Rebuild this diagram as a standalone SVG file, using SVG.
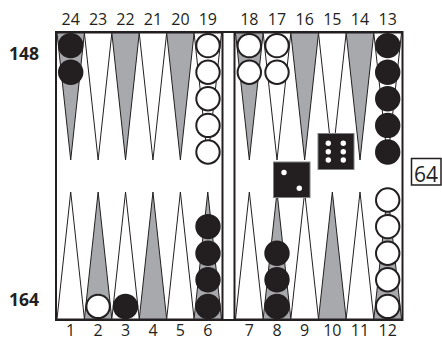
<svg xmlns="http://www.w3.org/2000/svg" width="442" height="340" viewBox="0 0 442 340">
<style>
.g{fill:#a7a9ac;stroke:#231f20;stroke-width:1}
.w{fill:#fff;stroke:#231f20;stroke-width:1}
.bk{fill:#231f20;stroke:#231f20;stroke-width:1.8}
.wh{fill:#fff;stroke:#231f20;stroke-width:2}
.frame{fill:none;stroke:#231f20;stroke-width:2}
.num{font-family:"Open Sans","Noto Sans",sans-serif;font-size:16px;fill:#231f20;text-anchor:middle}
.pip{font-family:"Open Sans","Noto Sans",sans-serif;font-size:17.5px;font-weight:700;fill:#231f20}
.die{fill:#231f20;stroke:#808285;stroke-width:1}
.dot{fill:#fff}
</style>
<rect width="442" height="340" fill="#fff"/>
<g id="points-top">
<polygon class="g" points="57,33 84.42,33 70.71,160"/>
<polygon class="w" points="84.42,33 111.83,33 98.13,160"/>
<polygon class="g" points="111.83,33 139.25,33 125.54,160"/>
<polygon class="w" points="139.25,33 166.67,33 152.96,160"/>
<polygon class="g" points="166.67,33 194.08,33 180.38,160"/>
<polygon class="w" points="194.08,33 221.5,33 207.79,160"/>
<polygon class="g" points="235.5,33 263.17,33 249.33,160"/>
<polygon class="w" points="263.17,33 290.83,33 277,160"/>
<polygon class="g" points="290.83,33 318.5,33 304.67,160"/>
<polygon class="w" points="318.5,33 346.17,33 332.33,160"/>
<polygon class="g" points="346.17,33 373.83,33 360,160"/>
<polygon class="w" points="373.83,33 401.5,33 387.67,160"/>
</g>
<g id="points-bottom">
<polygon class="w" points="57,319 84.42,319 70.71,192"/>
<polygon class="g" points="84.42,319 111.83,319 98.13,192"/>
<polygon class="w" points="111.83,319 139.25,319 125.54,192"/>
<polygon class="g" points="139.25,319 166.67,319 152.96,192"/>
<polygon class="w" points="166.67,319 194.08,319 180.38,192"/>
<polygon class="g" points="194.08,319 221.5,319 207.79,192"/>
<polygon class="w" points="235.5,319 263.17,319 249.33,192"/>
<polygon class="g" points="263.17,319 290.83,319 277,192"/>
<polygon class="w" points="290.83,319 318.5,319 304.67,192"/>
<polygon class="g" points="318.5,319 346.17,319 332.33,192"/>
<polygon class="w" points="346.17,319 373.83,319 360,192"/>
<polygon class="g" points="373.83,319 401.5,319 387.67,192"/>
</g>
<g id="board">
<rect class="frame" x="56" y="32" width="346.5" height="288"/>
<line class="frame" x1="222.5" y1="32" x2="222.5" y2="320"/>
<line class="frame" x1="234.5" y1="32" x2="234.5" y2="320"/>
</g>
<g id="checkers">
<circle class="bk" cx="70.7" cy="45.6" r="11.8"/>
<circle class="bk" cx="70.7" cy="72.2" r="11.8"/>
<circle class="wh" cx="208" cy="45.6" r="11.7"/>
<circle class="wh" cx="208" cy="72.2" r="11.7"/>
<circle class="wh" cx="208" cy="98.8" r="11.7"/>
<circle class="wh" cx="208" cy="125.4" r="11.7"/>
<circle class="wh" cx="208" cy="152" r="11.7"/>
<circle class="wh" cx="249.3" cy="45.6" r="11.7"/>
<circle class="wh" cx="249.3" cy="72.2" r="11.7"/>
<circle class="wh" cx="277" cy="45.6" r="11.7"/>
<circle class="wh" cx="277" cy="72.2" r="11.7"/>
<circle class="bk" cx="387.7" cy="45.6" r="11.8"/>
<circle class="bk" cx="387.7" cy="72.2" r="11.8"/>
<circle class="bk" cx="387.7" cy="98.8" r="11.8"/>
<circle class="bk" cx="387.7" cy="125.4" r="11.8"/>
<circle class="bk" cx="387.7" cy="152" r="11.8"/>
<circle class="wh" cx="98.1" cy="306.4" r="11.7"/>
<circle class="bk" cx="125.5" cy="306.4" r="11.8"/>
<circle class="bk" cx="208" cy="306.4" r="11.8"/>
<circle class="bk" cx="208" cy="279.8" r="11.8"/>
<circle class="bk" cx="208" cy="253.2" r="11.8"/>
<circle class="bk" cx="208" cy="226.6" r="11.8"/>
<circle class="bk" cx="277" cy="306.4" r="11.8"/>
<circle class="bk" cx="277" cy="279.8" r="11.8"/>
<circle class="bk" cx="277" cy="253.2" r="11.8"/>
<circle class="wh" cx="387.7" cy="306.4" r="11.7"/>
<circle class="wh" cx="387.7" cy="279.8" r="11.7"/>
<circle class="wh" cx="387.7" cy="253.2" r="11.7"/>
<circle class="wh" cx="387.7" cy="226.6" r="11.7"/>
<circle class="wh" cx="387.7" cy="200" r="11.7"/>
</g>
<g id="dice">
<rect class="die" x="273.5" y="162" width="36.5" height="35.5"/>
<circle class="dot" cx="284" cy="172.5" r="2.7"/>
<circle class="dot" cx="299.3" cy="188.3" r="2.7"/>
<rect class="die" x="318" y="133.5" width="36" height="36"/>
<circle class="dot" cx="328.3" cy="143.3" r="2.7"/>
<circle class="dot" cx="328.3" cy="151.7" r="2.7"/>
<circle class="dot" cx="328.3" cy="160" r="2.7"/>
<circle class="dot" cx="343.3" cy="143.3" r="2.7"/>
<circle class="dot" cx="343.3" cy="151.7" r="2.7"/>
<circle class="dot" cx="343.3" cy="160" r="2.7"/>
</g>
<g id="cube">
<rect x="411.5" y="158.5" width="29.5" height="26.5" fill="#fff" stroke="#231f20" stroke-width="1.5"/>
<text x="426" y="182" font-family="'Open Sans','Noto Sans',sans-serif" font-size="21" fill="#231f20" text-anchor="middle">64</text>
</g>
<g id="labels-top">
<text class="num" x="70.7" y="25">24</text>
<text class="num" x="98.1" y="25">23</text>
<text class="num" x="125.5" y="25">22</text>
<text class="num" x="153" y="25">21</text>
<text class="num" x="180.4" y="25">20</text>
<text class="num" x="207.8" y="25">19</text>
<text class="num" x="249.3" y="25">18</text>
<text class="num" x="277" y="25">17</text>
<text class="num" x="304.7" y="25">16</text>
<text class="num" x="332.3" y="25">15</text>
<text class="num" x="360" y="25">14</text>
<text class="num" x="387.7" y="25">13</text>
</g>
<g id="labels-bottom">
<text class="num" x="70.7" y="336">1</text>
<text class="num" x="98.1" y="336">2</text>
<text class="num" x="125.5" y="336">3</text>
<text class="num" x="153" y="336">4</text>
<text class="num" x="180.4" y="336">5</text>
<text class="num" x="207.8" y="336">6</text>
<text class="num" x="249.3" y="336">7</text>
<text class="num" x="277" y="336">8</text>
<text class="num" x="304.7" y="336">9</text>
<text class="num" x="332.3" y="336">10</text>
<text class="num" x="360" y="336">11</text>
<text class="num" x="387.7" y="336">12</text>
</g>
<g id="pipcounts">
<text class="pip" x="9" y="60">148</text>
<text class="pip" x="9" y="306">164</text>
</g>
</svg>
